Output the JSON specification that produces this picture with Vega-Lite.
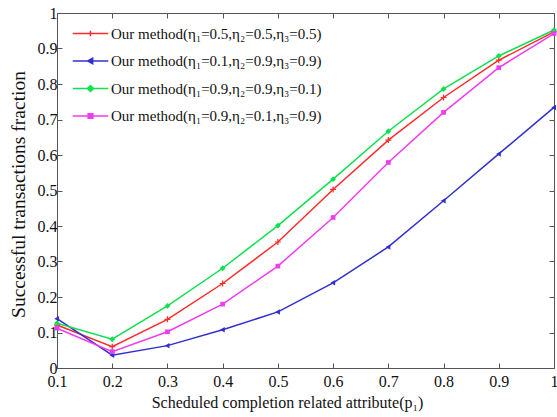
{
  "$schema": "https://vega.github.io/schema/vega-lite/v6.json",
  "width": 497,
  "height": 355,
  "autosize": "none",
  "padding": {"left": 57, "top": 13, "right": 3, "bottom": 49},
  "background": "white",
  "config": {
    "font": "Liberation Serif",
    "view": {"stroke": "#555555", "strokeWidth": 1},
    "axis": {
      "grid": false,
      "domain": false,
      "tickSize": -5,
      "tickColor": "#555555",
      "labelFont": "Liberation Serif",
      "labelFontSize": 16,
      "labelColor": "#111111",
      "titleFont": "Liberation Serif",
      "titleFontSize": 16,
      "titleFontWeight": "normal",
      "titleColor": "#111111"
    }
  },
  "data": {
    "values": [
      {"p": 0.1, "v": 0.121, "s": "Our method(η₁=0.5,η₂=0.5,η₃=0.5)"},
      {"p": 0.2, "v": 0.060, "s": "Our method(η₁=0.5,η₂=0.5,η₃=0.5)"},
      {"p": 0.3, "v": 0.137, "s": "Our method(η₁=0.5,η₂=0.5,η₃=0.5)"},
      {"p": 0.4, "v": 0.238, "s": "Our method(η₁=0.5,η₂=0.5,η₃=0.5)"},
      {"p": 0.5, "v": 0.355, "s": "Our method(η₁=0.5,η₂=0.5,η₃=0.5)"},
      {"p": 0.6, "v": 0.503, "s": "Our method(η₁=0.5,η₂=0.5,η₃=0.5)"},
      {"p": 0.7, "v": 0.642, "s": "Our method(η₁=0.5,η₂=0.5,η₃=0.5)"},
      {"p": 0.8, "v": 0.762, "s": "Our method(η₁=0.5,η₂=0.5,η₃=0.5)"},
      {"p": 0.9, "v": 0.867, "s": "Our method(η₁=0.5,η₂=0.5,η₃=0.5)"},
      {"p": 1.0, "v": 0.947, "s": "Our method(η₁=0.5,η₂=0.5,η₃=0.5)"},
      {"p": 0.1, "v": 0.139, "s": "Our method(η₁=0.1,η₂=0.9,η₃=0.9)"},
      {"p": 0.2, "v": 0.036, "s": "Our method(η₁=0.1,η₂=0.9,η₃=0.9)"},
      {"p": 0.3, "v": 0.063, "s": "Our method(η₁=0.1,η₂=0.9,η₃=0.9)"},
      {"p": 0.4, "v": 0.108, "s": "Our method(η₁=0.1,η₂=0.9,η₃=0.9)"},
      {"p": 0.5, "v": 0.158, "s": "Our method(η₁=0.1,η₂=0.9,η₃=0.9)"},
      {"p": 0.6, "v": 0.240, "s": "Our method(η₁=0.1,η₂=0.9,η₃=0.9)"},
      {"p": 0.7, "v": 0.341, "s": "Our method(η₁=0.1,η₂=0.9,η₃=0.9)"},
      {"p": 0.8, "v": 0.471, "s": "Our method(η₁=0.1,η₂=0.9,η₃=0.9)"},
      {"p": 0.9, "v": 0.603, "s": "Our method(η₁=0.1,η₂=0.9,η₃=0.9)"},
      {"p": 1.0, "v": 0.734, "s": "Our method(η₁=0.1,η₂=0.9,η₃=0.9)"},
      {"p": 0.1, "v": 0.126, "s": "Our method(η₁=0.9,η₂=0.9,η₃=0.1)"},
      {"p": 0.2, "v": 0.081, "s": "Our method(η₁=0.9,η₂=0.9,η₃=0.1)"},
      {"p": 0.3, "v": 0.175, "s": "Our method(η₁=0.9,η₂=0.9,η₃=0.1)"},
      {"p": 0.4, "v": 0.281, "s": "Our method(η₁=0.9,η₂=0.9,η₃=0.1)"},
      {"p": 0.5, "v": 0.401, "s": "Our method(η₁=0.9,η₂=0.9,η₃=0.1)"},
      {"p": 0.6, "v": 0.532, "s": "Our method(η₁=0.9,η₂=0.9,η₃=0.1)"},
      {"p": 0.7, "v": 0.667, "s": "Our method(η₁=0.9,η₂=0.9,η₃=0.1)"},
      {"p": 0.8, "v": 0.786, "s": "Our method(η₁=0.9,η₂=0.9,η₃=0.1)"},
      {"p": 0.9, "v": 0.879, "s": "Our method(η₁=0.9,η₂=0.9,η₃=0.1)"},
      {"p": 1.0, "v": 0.952, "s": "Our method(η₁=0.9,η₂=0.9,η₃=0.1)"},
      {"p": 0.1, "v": 0.112, "s": "Our method(η₁=0.9,η₂=0.1,η₃=0.9)"},
      {"p": 0.2, "v": 0.046, "s": "Our method(η₁=0.9,η₂=0.1,η₃=0.9)"},
      {"p": 0.3, "v": 0.102, "s": "Our method(η₁=0.9,η₂=0.1,η₃=0.9)"},
      {"p": 0.4, "v": 0.180, "s": "Our method(η₁=0.9,η₂=0.1,η₃=0.9)"},
      {"p": 0.5, "v": 0.287, "s": "Our method(η₁=0.9,η₂=0.1,η₃=0.9)"},
      {"p": 0.6, "v": 0.424, "s": "Our method(η₁=0.9,η₂=0.1,η₃=0.9)"},
      {"p": 0.7, "v": 0.579, "s": "Our method(η₁=0.9,η₂=0.1,η₃=0.9)"},
      {"p": 0.8, "v": 0.720, "s": "Our method(η₁=0.9,η₂=0.1,η₃=0.9)"},
      {"p": 0.9, "v": 0.846, "s": "Our method(η₁=0.9,η₂=0.1,η₃=0.9)"},
      {"p": 1.0, "v": 0.942, "s": "Our method(η₁=0.9,η₂=0.1,η₃=0.9)"}
    ]
  },
  "layer": [
    {
      "mark": {"type": "line", "strokeWidth": 1.5},
      "encoding": {
        "x": {
          "field": "p", "type": "quantitative",
          "scale": {"domain": [0.1, 1], "nice": false, "zero": false},
          "axis": {"orient": "bottom", "values": [0.1, 0.2, 0.3, 0.4, 0.5, 0.6, 0.7, 0.8, 0.9, 1], "format": "~g", "labelPadding": 10, "title": "Scheduled completion related attribute(p₁)", "titlePadding": 5, "titleX": 230, "labelFlush": false}
        },
        "y": {
          "field": "v", "type": "quantitative",
          "scale": {"domain": [0, 1], "nice": false},
          "axis": {
            "orient": "left", "values": [0, 0.1, 0.2, 0.3, 0.4, 0.5, 0.6, 0.7, 0.8, 0.9, 1], "format": "~g", "labelPadding": 5,
            "title": "Successful transactions fraction", "titleFontSize": 19.5, "titlePadding": 9, "titleY": 181, "labelFlush": false,
            "encode": {"labels": {"update": {"dy": {"signal": "datum.value == 0 ? -4 : 0"}}}}
          }
        },
        "color": {
          "field": "s", "type": "nominal",
          "scale": {
            "domain": ["Our method(η₁=0.5,η₂=0.5,η₃=0.5)", "Our method(η₁=0.1,η₂=0.9,η₃=0.9)", "Our method(η₁=0.9,η₂=0.9,η₃=0.1)", "Our method(η₁=0.9,η₂=0.1,η₃=0.9)"],
            "range": ["#ff2a2a", "#3030d0", "#10e050", "#f03cf0"]
          },
          "legend": {
            "title": null,
            "orient": "none",
            "legendX": 26,
            "legendY": 13,
            "padding": 0,
            "labelFont": "Liberation Serif",
            "labelFontSize": 15,
            "labelColor": "#111111",
            "labelLimit": 400,
            "symbolSize": 150,
            "symbolStrokeWidth": 1.5,
            "labelOffset": 13,
            "rowPadding": 11.5,
            "encode": {
              "symbols": {
                "update": {
                  "shape": {"signal": "datum.index == 0 ? 'M-2.9,0H2.9M0,-0.45V0.45' : datum.index == 1 ? 'M-2.9,0H2.9M-0.45,0L0.35,-0.45L0.35,0.45Z' : datum.index == 2 ? 'M-2.9,0H2.9M-0.5,0L0,-0.5L0.5,0L0,0.5Z' : 'M-2.9,0H2.9M-0.38,-0.38H0.38V0.38H-0.38Z'"},
                  "fill": {"signal": "datum.index == 0 ? '#ff2a2a' : datum.index == 1 ? '#3030d0' : datum.index == 2 ? '#10e050' : '#f03cf0'"}
                }
              }
            }
          }
        }
      }
    },
    {
      "transform": [{"filter": "datum.s == 'Our method(η₁=0.5,η₂=0.5,η₃=0.5)'"}],
      "mark": {"type": "point", "shape": "M-1,0H1M0,-1V1", "filled": false, "size": 36, "strokeWidth": 1.2, "color": "#ff2a2a", "opacity": 1},
      "encoding": {
        "x": {
          "field": "p", "type": "quantitative",
          "axis": {"orient": "top", "values": [0.1, 0.2, 0.3, 0.4, 0.5, 0.6, 0.7, 0.8, 0.9, 1], "labels": false, "title": null}
        },
        "y": {
          "field": "v", "type": "quantitative",
          "axis": {"orient": "right", "values": [0, 0.1, 0.2, 0.3, 0.4, 0.5, 0.6, 0.7, 0.8, 0.9, 1], "labels": false, "title": null}
        }
      }
    },
    {
      "transform": [{"filter": "datum.s == 'Our method(η₁=0.1,η₂=0.9,η₃=0.9)'"}],
      "mark": {"type": "point", "shape": "M-1,0L0.75,-1L0.75,1Z", "filled": true, "size": 30, "color": "#3030d0", "opacity": 1},
      "encoding": {
        "x": {"field": "p", "type": "quantitative", "axis": null},
        "y": {"field": "v", "type": "quantitative", "axis": null}
      }
    },
    {
      "transform": [{"filter": "datum.s == 'Our method(η₁=0.9,η₂=0.9,η₃=0.1)'"}],
      "mark": {"type": "point", "shape": "diamond", "filled": true, "size": 34, "color": "#10e050", "opacity": 1},
      "encoding": {
        "x": {"field": "p", "type": "quantitative", "axis": null},
        "y": {"field": "v", "type": "quantitative", "axis": null}
      }
    },
    {
      "transform": [{"filter": "datum.s == 'Our method(η₁=0.9,η₂=0.1,η₃=0.9)'"}],
      "mark": {"type": "point", "shape": "square", "filled": true, "size": 22, "color": "#f03cf0", "opacity": 1},
      "encoding": {
        "x": {"field": "p", "type": "quantitative", "axis": null},
        "y": {"field": "v", "type": "quantitative", "axis": null}
      }
    }
  ],
  "resolve": {"axis": {"x": "independent", "y": "independent"}}
}
